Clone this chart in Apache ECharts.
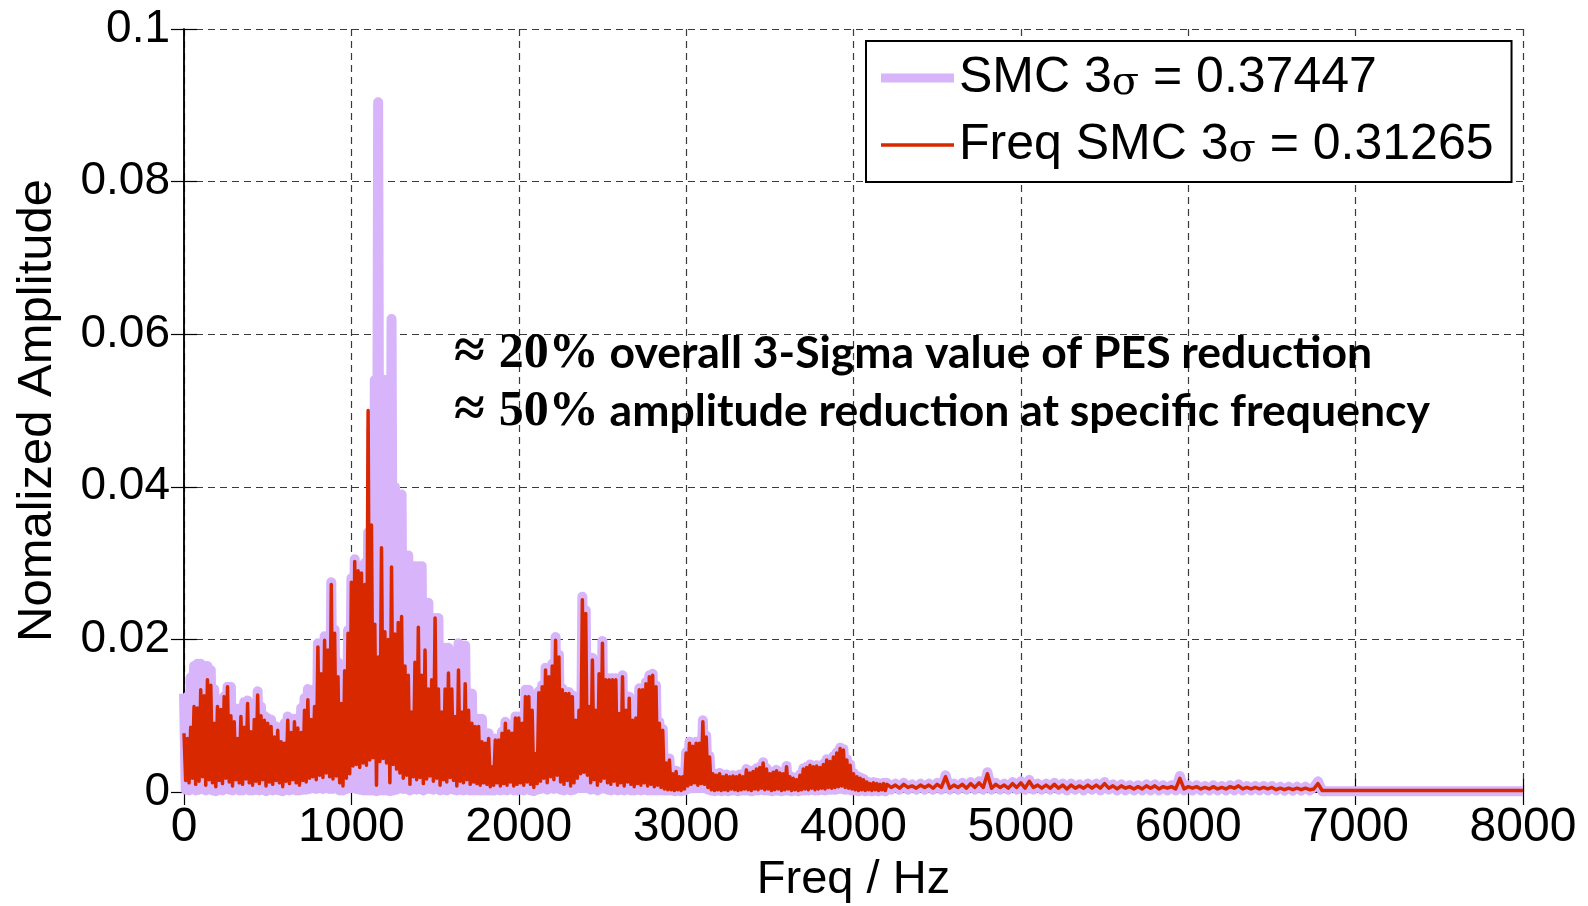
<!DOCTYPE html>
<html>
<head>
<meta charset="utf-8">
<title>PES spectrum: SMC vs Freq SMC</title>
<script src="https://cdn.jsdelivr.net/npm/echarts@6/dist/echarts.min.js"></script>
<style>
  html, body { margin: 0; padding: 0; background: #fff; }
  #chart { width: 1588px; height: 906px; }
</style>
</head>
<body>
<div id="chart"></div>
<script>
// Spectrum bins: 20 Hz wide up to 4200 Hz. Each bin holds a local peak (at the bin start)
// and a local trough (at the bin middle), which renders the dense FFT as a filled band.
const BIN_HZ = 20;
// Above 4200 Hz the spectrum is sampled every 25 Hz up to 6800 Hz, then stays flat.
const TAIL_START_HZ = 4200;
const TAIL_STEP_HZ = 25;

const xTicks = [0, 1000, 2000, 3000, 4000, 5000, 6000, 7000, 8000];
const yTickLabels = ['0', '0.02', '0.04', '0.06', '0.08', '0.1'];

const smcSigma = '0.37447';
const freqSmcSigma = '0.31265';

// SMC: bin peaks, 0 .. 4180 Hz
const smcPeaks = [
  0.0129,0.0125,0.0150,0.0165,0.0168,0.0168,0.0165,0.0165,0.0160,0.0135, // 0-180
  0.0120,0.0117,0.0125,0.0138,0.0138,0.0110,0.0102,0.0110,0.0118,0.0120, // 200-380
  0.0096,0.0110,0.0132,0.0112,0.0100,0.0097,0.0095,0.0087,0.0085,0.0075, // 400-580
  0.0090,0.0099,0.0095,0.0096,0.0096,0.0110,0.0123,0.0135,0.0111,0.0135, // 600-780
  0.0195,0.0170,0.0204,0.0200,0.0275,0.0213,0.0170,0.0153,0.0165,0.0212, // 800-980
  0.0280,0.0305,0.0292,0.0290,0.0300,0.0340,0.0476,0.0540,0.0904,0.0540, // 1000-1180
  0.0540,0.0540,0.0620,0.0400,0.0390,0.0390,0.0310,0.0310,0.0250,0.0296, // 1200-1380
  0.0296,0.0296,0.0248,0.0248,0.0228,0.0228,0.0228,0.0170,0.0189,0.0189, // 1400-1580
  0.0159,0.0159,0.0195,0.0192,0.0192,0.0129,0.0129,0.0096,0.0096,0.0096, // 1600-1780
  0.0077,0.0077,0.0035,0.0070,0.0070,0.0079,0.0092,0.0082,0.0079,0.0099, // 1800-1980
  0.0099,0.0092,0.0134,0.0134,0.0110,0.0052,0.0132,0.0140,0.0163,0.0153, // 2000-2180
  0.0168,0.0203,0.0180,0.0136,0.0131,0.0131,0.0127,0.0096,0.0109,0.0256, // 2200-2380
  0.0238,0.0114,0.0176,0.0109,0.0157,0.0198,0.0149,0.0149,0.0149,0.0149, // 2400-2580
  0.0105,0.0153,0.0109,0.0125,0.0096,0.0099,0.0136,0.0136,0.0144,0.0153, // 2600-2780
  0.0155,0.0140,0.0092,0.0083,0.0040,0.0044,0.0025,0.0028,0.0021,0.0021, // 2800-2980
  0.0052,0.0066,0.0062,0.0066,0.0066,0.0094,0.0074,0.0047,0.0025,0.0023, // 3000-3180
  0.0025,0.0021,0.0023,0.0021,0.0022,0.0021,0.0023,0.0021,0.0030,0.0026, // 3200-3380
  0.0028,0.0031,0.0033,0.0039,0.0031,0.0025,0.0027,0.0029,0.0026,0.0025, // 3400-3580
  0.0034,0.0021,0.0019,0.0017,0.0023,0.0031,0.0033,0.0036,0.0034,0.0035, // 3600-3780
  0.0033,0.0037,0.0043,0.0041,0.0047,0.0052,0.0058,0.0056,0.0043,0.0036, // 3800-3980
  0.0025,0.0021,0.0019,0.0017,0.0014,0.0012,0.0013,0.0012,0.0011,0.0012  // 4000-4180
];

// SMC: bin troughs, 10 .. 4190 Hz
const smcTroughs = [
  0.0003,0.0002,0.0004,0.0002,0.0003,0.0005,0.0002,0.0004,0.0002,0.0001,
  0.0003,0.0002,0.0004,0.0003,0.0002,0.0004,0.0002,0.0002,0.0004,0.0002,
  0.0002,0.0003,0.0002,0.0004,0.0001,0.0003,0.0002,0.0003,0.0002,0.0001,
  0.0003,0.0002,0.0004,0.0002,0.0002,0.0003,0.0003,0.0004,0.0005,0.0004,
  0.0005,0.0004,0.0005,0.0004,0.0004,0.0005,0.0002,0.0002,0.0004,0.0005,
  0.0005,0.0004,0.0003,0.0002,0.0002,0.0002,0.0002,0.0001,0.0002,0.0002,
  0.0002,0.0001,0.0002,0.0003,0.0005,0.0004,0.0004,0.0002,0.0004,0.0003,
  0.0004,0.0002,0.0004,0.0004,0.0003,0.0004,0.0002,0.0003,0.0002,0.0004,
  0.0003,0.0002,0.0003,0.0002,0.0003,0.0002,0.0002,0.0002,0.0002,0.0002,
  0.0002,0.0002,0.0002,0.0003,0.0002,0.0003,0.0002,0.0004,0.0002,0.0002,
  0.0003,0.0002,0.0004,0.0002,0.0001,0.0003,0.0004,0.0005,0.0003,0.0005,
  0.0004,0.0005,0.0003,0.0002,0.0004,0.0002,0.0003,0.0005,0.0005,0.0005,
  0.0005,0.0003,0.0004,0.0002,0.0004,0.0005,0.0003,0.0002,0.0004,0.0002,
  0.0003,0.0002,0.0004,0.0002,0.0002,0.0003,0.0002,0.0003,0.0002,0.0002,
  0.0002,0.0002,0.0002,0.0002,0.0002,0.0002,0.0001,0.0002,0.0001,0.0002,
  0.0004,0.0005,0.0005,0.0005,0.0005,0.0005,0.0003,0.0002,0.0001,0.0002,
  0.0001,0.0002,0.0001,0.0002,0.0002,0.0001,0.0002,0.0002,0.0002,0.0001,
  0.0002,0.0002,0.0003,0.0002,0.0002,0.0001,0.0002,0.0002,0.0001,0.0002,
  0.0002,0.0001,0.0002,0.0001,0.0002,0.0002,0.0002,0.0003,0.0002,0.0002,
  0.0003,0.0002,0.0003,0.0003,0.0003,0.0004,0.0004,0.0003,0.0003,0.0002,
  0.0002,0.0001,0.0002,0.0001,0.0002,0.0001,0.0002,0.0001,0.0002,0.0001
];

// SMC: tail amplitudes, 4200 .. 6800 Hz every 25 Hz
const smcTailAmp = [
  0.0012,0.0003,0.0011,0.0003,0.0012,0.0003,0.0010,0.0003,0.0011,0.0003,
  0.0011,0.0003,0.0012,0.0003,0.0022,0.0003,0.0011,0.0003,0.0012,0.0003,
  0.0013,0.0003,0.0014,0.0003,0.0026,0.0003,0.0012,0.0003,0.0011,0.0003,
  0.0013,0.0003,0.0014,0.0003,0.0016,0.0003,0.0011,0.0003,0.0011,0.0003,
  0.0012,0.0003,0.0011,0.0002,0.0011,0.0003,0.0010,0.0002,0.0011,0.0003,
  0.0011,0.0002,0.0013,0.0003,0.0010,0.0002,0.0010,0.0002,0.0009,0.0002,
  0.0009,0.0002,0.0010,0.0002,0.0010,0.0002,0.0009,0.0002,0.0009,0.0002,
  0.0021,0.0002,0.0009,0.0002,0.0009,0.0002,0.0008,0.0002,0.0009,0.0002,
  0.0008,0.0002,0.0009,0.0002,0.0010,0.0002,0.0008,0.0002,0.0008,0.0002,
  0.0008,0.0002,0.0008,0.0002,0.0007,0.0002,0.0007,0.0002,0.0007,0.0002,
  0.0007,0.0002,0.0006,0.0014,0.0001
];
// SMC: flat end of the band, [Hz, amplitude]
const smcEnd = [[6900, 0.0001], [8000, 0.0001]];

// Freq SMC: bin peaks, 0 .. 4180 Hz
const freqSmcPeaks = [
  0.0077,0.0070,0.0085,0.0112,0.0110,0.0134,0.0126,0.0147,0.0140,0.0090, // 0-180
  0.0112,0.0108,0.0125,0.0138,0.0100,0.0092,0.0070,0.0099,0.0085,0.0116, // 200-380
  0.0079,0.0095,0.0127,0.0100,0.0094,0.0090,0.0086,0.0072,0.0081,0.0066, // 400-580
  0.0064,0.0094,0.0078,0.0092,0.0084,0.0078,0.0107,0.0121,0.0095,0.0112, // 600-780
  0.0190,0.0155,0.0199,0.0186,0.0272,0.0208,0.0151,0.0116,0.0159,0.0208, // 800-980
  0.0275,0.0302,0.0290,0.0287,0.0272,0.0500,0.0350,0.0220,0.0177,0.0320, // 1000-1180
  0.0210,0.0200,0.0295,0.0207,0.0222,0.0230,0.0165,0.0153,0.0105,0.0170, // 1200-1380
  0.0216,0.0153,0.0186,0.0135,0.0147,0.0228,0.0135,0.0105,0.0135,0.0156, // 1400-1580
  0.0135,0.0099,0.0160,0.0105,0.0142,0.0107,0.0090,0.0086,0.0086,0.0066, // 1600-1780
  0.0064,0.0070,0.0033,0.0068,0.0068,0.0077,0.0090,0.0080,0.0077,0.0097, // 1800-1980
  0.0097,0.0090,0.0125,0.0125,0.0107,0.0050,0.0130,0.0138,0.0160,0.0151, // 2000-2180
  0.0165,0.0199,0.0177,0.0134,0.0129,0.0129,0.0125,0.0094,0.0107,0.0252, // 2200-2380
  0.0234,0.0112,0.0173,0.0107,0.0155,0.0195,0.0147,0.0147,0.0147,0.0147, // 2400-2580
  0.0103,0.0151,0.0107,0.0123,0.0094,0.0097,0.0134,0.0134,0.0142,0.0151, // 2600-2780
  0.0153,0.0138,0.0090,0.0081,0.0038,0.0042,0.0024,0.0027,0.0020,0.0020, // 2800-2980
  0.0051,0.0064,0.0060,0.0064,0.0064,0.0092,0.0072,0.0046,0.0024,0.0022, // 3000-3180
  0.0024,0.0020,0.0022,0.0020,0.0021,0.0020,0.0022,0.0020,0.0029,0.0025, // 3200-3380
  0.0027,0.0030,0.0032,0.0038,0.0030,0.0024,0.0026,0.0028,0.0025,0.0024, // 3400-3580
  0.0033,0.0020,0.0018,0.0016,0.0022,0.0030,0.0032,0.0035,0.0033,0.0034, // 3600-3780
  0.0032,0.0036,0.0042,0.0040,0.0046,0.0051,0.0057,0.0055,0.0042,0.0035, // 3800-3980
  0.0024,0.0020,0.0018,0.0016,0.0013,0.0011,0.0012,0.0011,0.0010,0.0011  // 4000-4180
];

// Freq SMC: bin troughs, 10 .. 4190 Hz
const freqSmcTroughs = [
  0.0015,0.0012,0.0018,0.0010,0.0014,0.0020,0.0009,0.0016,0.0012,0.0007,
  0.0015,0.0011,0.0018,0.0013,0.0008,0.0016,0.0012,0.0010,0.0017,0.0012,
  0.0009,0.0014,0.0011,0.0016,0.0008,0.0013,0.0010,0.0015,0.0012,0.0007,
  0.0014,0.0011,0.0016,0.0012,0.0009,0.0015,0.0013,0.0018,0.0020,0.0016,
  0.0022,0.0019,0.0025,0.0020,0.0017,0.0021,0.0012,0.0008,0.0018,0.0024,
  0.0034,0.0036,0.0032,0.0038,0.0035,0.0042,0.0045,0.0009,0.0040,0.0044,
  0.0038,0.0012,0.0036,0.0030,0.0025,0.0018,0.0022,0.0010,0.0020,0.0016,
  0.0019,0.0011,0.0017,0.0021,0.0014,0.0018,0.0009,0.0016,0.0013,0.0019,
  0.0015,0.0008,0.0014,0.0012,0.0016,0.0010,0.0013,0.0011,0.0009,0.0012,
  0.0010,0.0007,0.0009,0.0012,0.0008,0.0011,0.0009,0.0013,0.0008,0.0010,
  0.0012,0.0009,0.0013,0.0010,0.0006,0.0011,0.0014,0.0018,0.0012,0.0020,
  0.0016,0.0022,0.0013,0.0010,0.0015,0.0008,0.0012,0.0018,0.0024,0.0026,
  0.0022,0.0012,0.0016,0.0009,0.0014,0.0018,0.0012,0.0010,0.0014,0.0009,
  0.0012,0.0008,0.0013,0.0010,0.0007,0.0011,0.0009,0.0012,0.0008,0.0010,
  0.0007,0.0009,0.0006,0.0004,0.0003,0.0003,0.0002,0.0003,0.0002,0.0004,
  0.0008,0.0010,0.0012,0.0009,0.0011,0.0010,0.0006,0.0003,0.0002,0.0003,
  0.0002,0.0003,0.0002,0.0004,0.0003,0.0002,0.0003,0.0004,0.0003,0.0002,
  0.0004,0.0003,0.0005,0.0003,0.0004,0.0002,0.0003,0.0004,0.0002,0.0003,
  0.0004,0.0002,0.0003,0.0002,0.0003,0.0004,0.0003,0.0005,0.0003,0.0004,
  0.0005,0.0004,0.0006,0.0005,0.0006,0.0007,0.0008,0.0006,0.0005,0.0004,
  0.0003,0.0002,0.0003,0.0002,0.0003,0.0002,0.0003,0.0002,0.0003,0.0002
];

// Freq SMC: tail amplitudes, 4200 .. 6800 Hz every 25 Hz
const freqSmcTailAmp = [
  0.0010,0.0006,0.0009,0.0005,0.0010,0.0006,0.0008,0.0005,0.0009,0.0006,
  0.0009,0.0005,0.0010,0.0006,0.0020,0.0005,0.0009,0.0006,0.0010,0.0005,
  0.0011,0.0006,0.0012,0.0006,0.0024,0.0005,0.0010,0.0006,0.0009,0.0005,
  0.0011,0.0006,0.0012,0.0005,0.0014,0.0006,0.0009,0.0005,0.0009,0.0005,
  0.0010,0.0005,0.0009,0.0004,0.0009,0.0005,0.0008,0.0005,0.0009,0.0005,
  0.0009,0.0005,0.0011,0.0005,0.0008,0.0004,0.0008,0.0005,0.0007,0.0004,
  0.0007,0.0004,0.0008,0.0005,0.0008,0.0004,0.0007,0.0005,0.0007,0.0004,
  0.0018,0.0004,0.0007,0.0005,0.0007,0.0004,0.0006,0.0004,0.0007,0.0004,
  0.0006,0.0004,0.0007,0.0005,0.0008,0.0004,0.0006,0.0004,0.0006,0.0004,
  0.0006,0.0004,0.0006,0.0003,0.0005,0.0003,0.0005,0.0003,0.0005,0.0003,
  0.0005,0.0003,0.0004,0.0011,0.0002
];
// Freq SMC: flat end of the band, [Hz, amplitude]
const freqSmcEnd = [[6900, 0.0002], [8000, 0.0002]];

// Interleave bin peaks and troughs, then append the 25 Hz tail and the flat end.
function buildSpectrum(peaks, troughs, tailAmp, end) {
  const pts = [];
  for (let i = 0; i < peaks.length; i++) {
    pts.push([i * BIN_HZ, peaks[i]]);
    pts.push([i * BIN_HZ + BIN_HZ / 2, troughs[i]]);
  }
  for (let j = 0; j < tailAmp.length; j++) {
    pts.push([TAIL_START_HZ + j * TAIL_STEP_HZ, tailAmp[j]]);
  }
  return pts.concat(end);
}

const SMC_COLOR = '#D8B4FA';
const FREQ_COLOR = '#D82800';
const SANS = "'Liberation Sans', Arial, Helvetica, sans-serif";
const SERIF = "'Liberation Serif', 'DejaVu Serif', serif";
const NOTE_SANS = "Lato, 'Open Sans', sans-serif";

const chart = echarts.init(document.getElementById('chart'), null, { renderer: 'canvas' });

const frameAxis = {
  axisLine: { show: true, lineStyle: { color: '#000', width: 1.5 } },
  axisTick: { show: true, inside: true, length: 13, lineStyle: { color: '#000', width: 1.2 } },
  axisLabel: { show: false },
  splitLine: { show: false }
};

const gridDash = { color: '#3a3a3a', width: 1.2, type: [7, 5] };

const noteRich = {
  m: { fontFamily: SERIF, fontSize: 56, lineHeight: 58, color: '#000', padding: [0, 14, 0, 0] },
  b: { fontFamily: SERIF, fontWeight: 'bold', fontSize: 50, lineHeight: 58, color: '#000' },
  t: { fontFamily: NOTE_SANS, fontWeight: 'bold', fontSize: 44.5, lineHeight: 58, color: '#000' }
};

chart.setOption({
  animation: false,
  backgroundColor: '#fff',
  grid: { left: 184, right: 65, top: 29, bottom: 114, containLabel: false, outerBoundsMode: 'none' },
  title: [
    {
      left: 454, top: 325, padding: 0,
      text: '{m|≈}{b|20%}{t| overall 3-Sigma value of PES reduction}',
      textStyle: { rich: noteRich }
    },
    {
      left: 454, top: 383, padding: 0,
      text: '{m|≈}{b|50%}{t| amplitude reduction at specific frequency}',
      textStyle: { rich: noteRich }
    }
  ],
  legend: {
    orient: 'vertical',
    left: 866, top: 41,
    padding: [11, 18, 11, 15],
    itemWidth: 73, itemHeight: 9, itemGap: 15,
    backgroundColor: '#fff',
    borderColor: '#000', borderWidth: 2, borderRadius: 0,
    selectedMode: false,
    data: [
      { name: 'SMC', icon: 'path://M0,0H73V9H0Z' },
      { name: 'Freq SMC', icon: 'path://M0,0H0.01V0.01ZM0,2.75H73V6.25H0ZM72.99,9H73V8.99Z' }
    ],
    formatter: function (name) {
      const v = name === 'SMC' ? smcSigma : freqSmcSigma;
      return '{n|' + name + ' 3}{s|σ}{n| = ' + v + '}';
    },
    textStyle: {
      color: '#000',
      fontFamily: SANS, fontSize: 50, lineHeight: 52,
      rich: {
        n: { fontFamily: SANS, fontSize: 50, lineHeight: 52, color: '#000' },
        s: { fontFamily: "'DejaVu Serif', 'Liberation Serif', serif", fontSize: 40, lineHeight: 52, color: '#000', verticalAlign: 'bottom', padding: [8, 0, 0, 0] }
      }
    }
  },
  xAxis: [
    {
      type: 'value', min: 0, max: 8000, interval: 1000,
      name: 'Freq / Hz', nameLocation: 'middle', nameGap: 60,
      nameTextStyle: { fontFamily: SANS, fontSize: 47, color: '#000' },
      axisLine: { show: true, onZero: false, lineStyle: { color: '#000', width: 1.5 } },
      axisTick: { show: true, inside: true, length: 13, lineStyle: { color: '#000', width: 1.2 } },
      axisLabel: {
        show: true, margin: 12, color: '#000', fontFamily: SANS, fontSize: 48, lineHeight: 48,
        formatter: function (v) { return xTicks.indexOf(v) >= 0 ? String(v) : ''; }
      },
      splitLine: { show: true, lineStyle: gridDash }
    },
    Object.assign({ type: 'value', min: 0, max: 8000, interval: 1000, position: 'top' }, frameAxis)
  ],
  yAxis: [
    {
      type: 'value', min: 0, max: 0.1, interval: 0.02,
      name: 'Nomalized Amplitude', nameLocation: 'middle', nameGap: 122, nameRotate: 90,
      nameTextStyle: { fontFamily: SANS, fontSize: 49, color: '#000' },
      axisLine: { show: true, onZero: false, lineStyle: { color: '#000', width: 1.5 } },
      axisTick: { show: true, inside: true, length: 13, lineStyle: { color: '#000', width: 1.2 } },
      axisLabel: {
        show: true, margin: 14, color: '#000', fontFamily: SANS, fontSize: 46,
        formatter: function (v) { return yTickLabels[Math.round(v / 0.02)]; }
      },
      splitLine: { show: true, lineStyle: gridDash }
    },
    Object.assign({ type: 'value', min: 0, max: 0.1, interval: 0.02, position: 'right' }, frameAxis)
  ],
  series: [
    {
      name: 'SMC', type: 'line', xAxisIndex: 0, yAxisIndex: 0,
      data: buildSpectrum(smcPeaks, smcTroughs, smcTailAmp, smcEnd),
      symbol: 'none', showSymbol: false, silent: true, z: 2,
      color: SMC_COLOR,
      itemStyle: { color: SMC_COLOR },
      lineStyle: { color: SMC_COLOR, width: 10, join: 'round' },
      emphasis: { disabled: true }
    },
    {
      name: 'Freq SMC', type: 'line', xAxisIndex: 0, yAxisIndex: 0,
      data: buildSpectrum(freqSmcPeaks, freqSmcTroughs, freqSmcTailAmp, freqSmcEnd),
      symbol: 'none', showSymbol: false, silent: true, z: 3,
      color: FREQ_COLOR,
      itemStyle: { color: FREQ_COLOR },
      lineStyle: { color: FREQ_COLOR, width: 3.5, join: 'round' },
      emphasis: { disabled: true }
    }
  ]
});
</script>
</body>
</html>
